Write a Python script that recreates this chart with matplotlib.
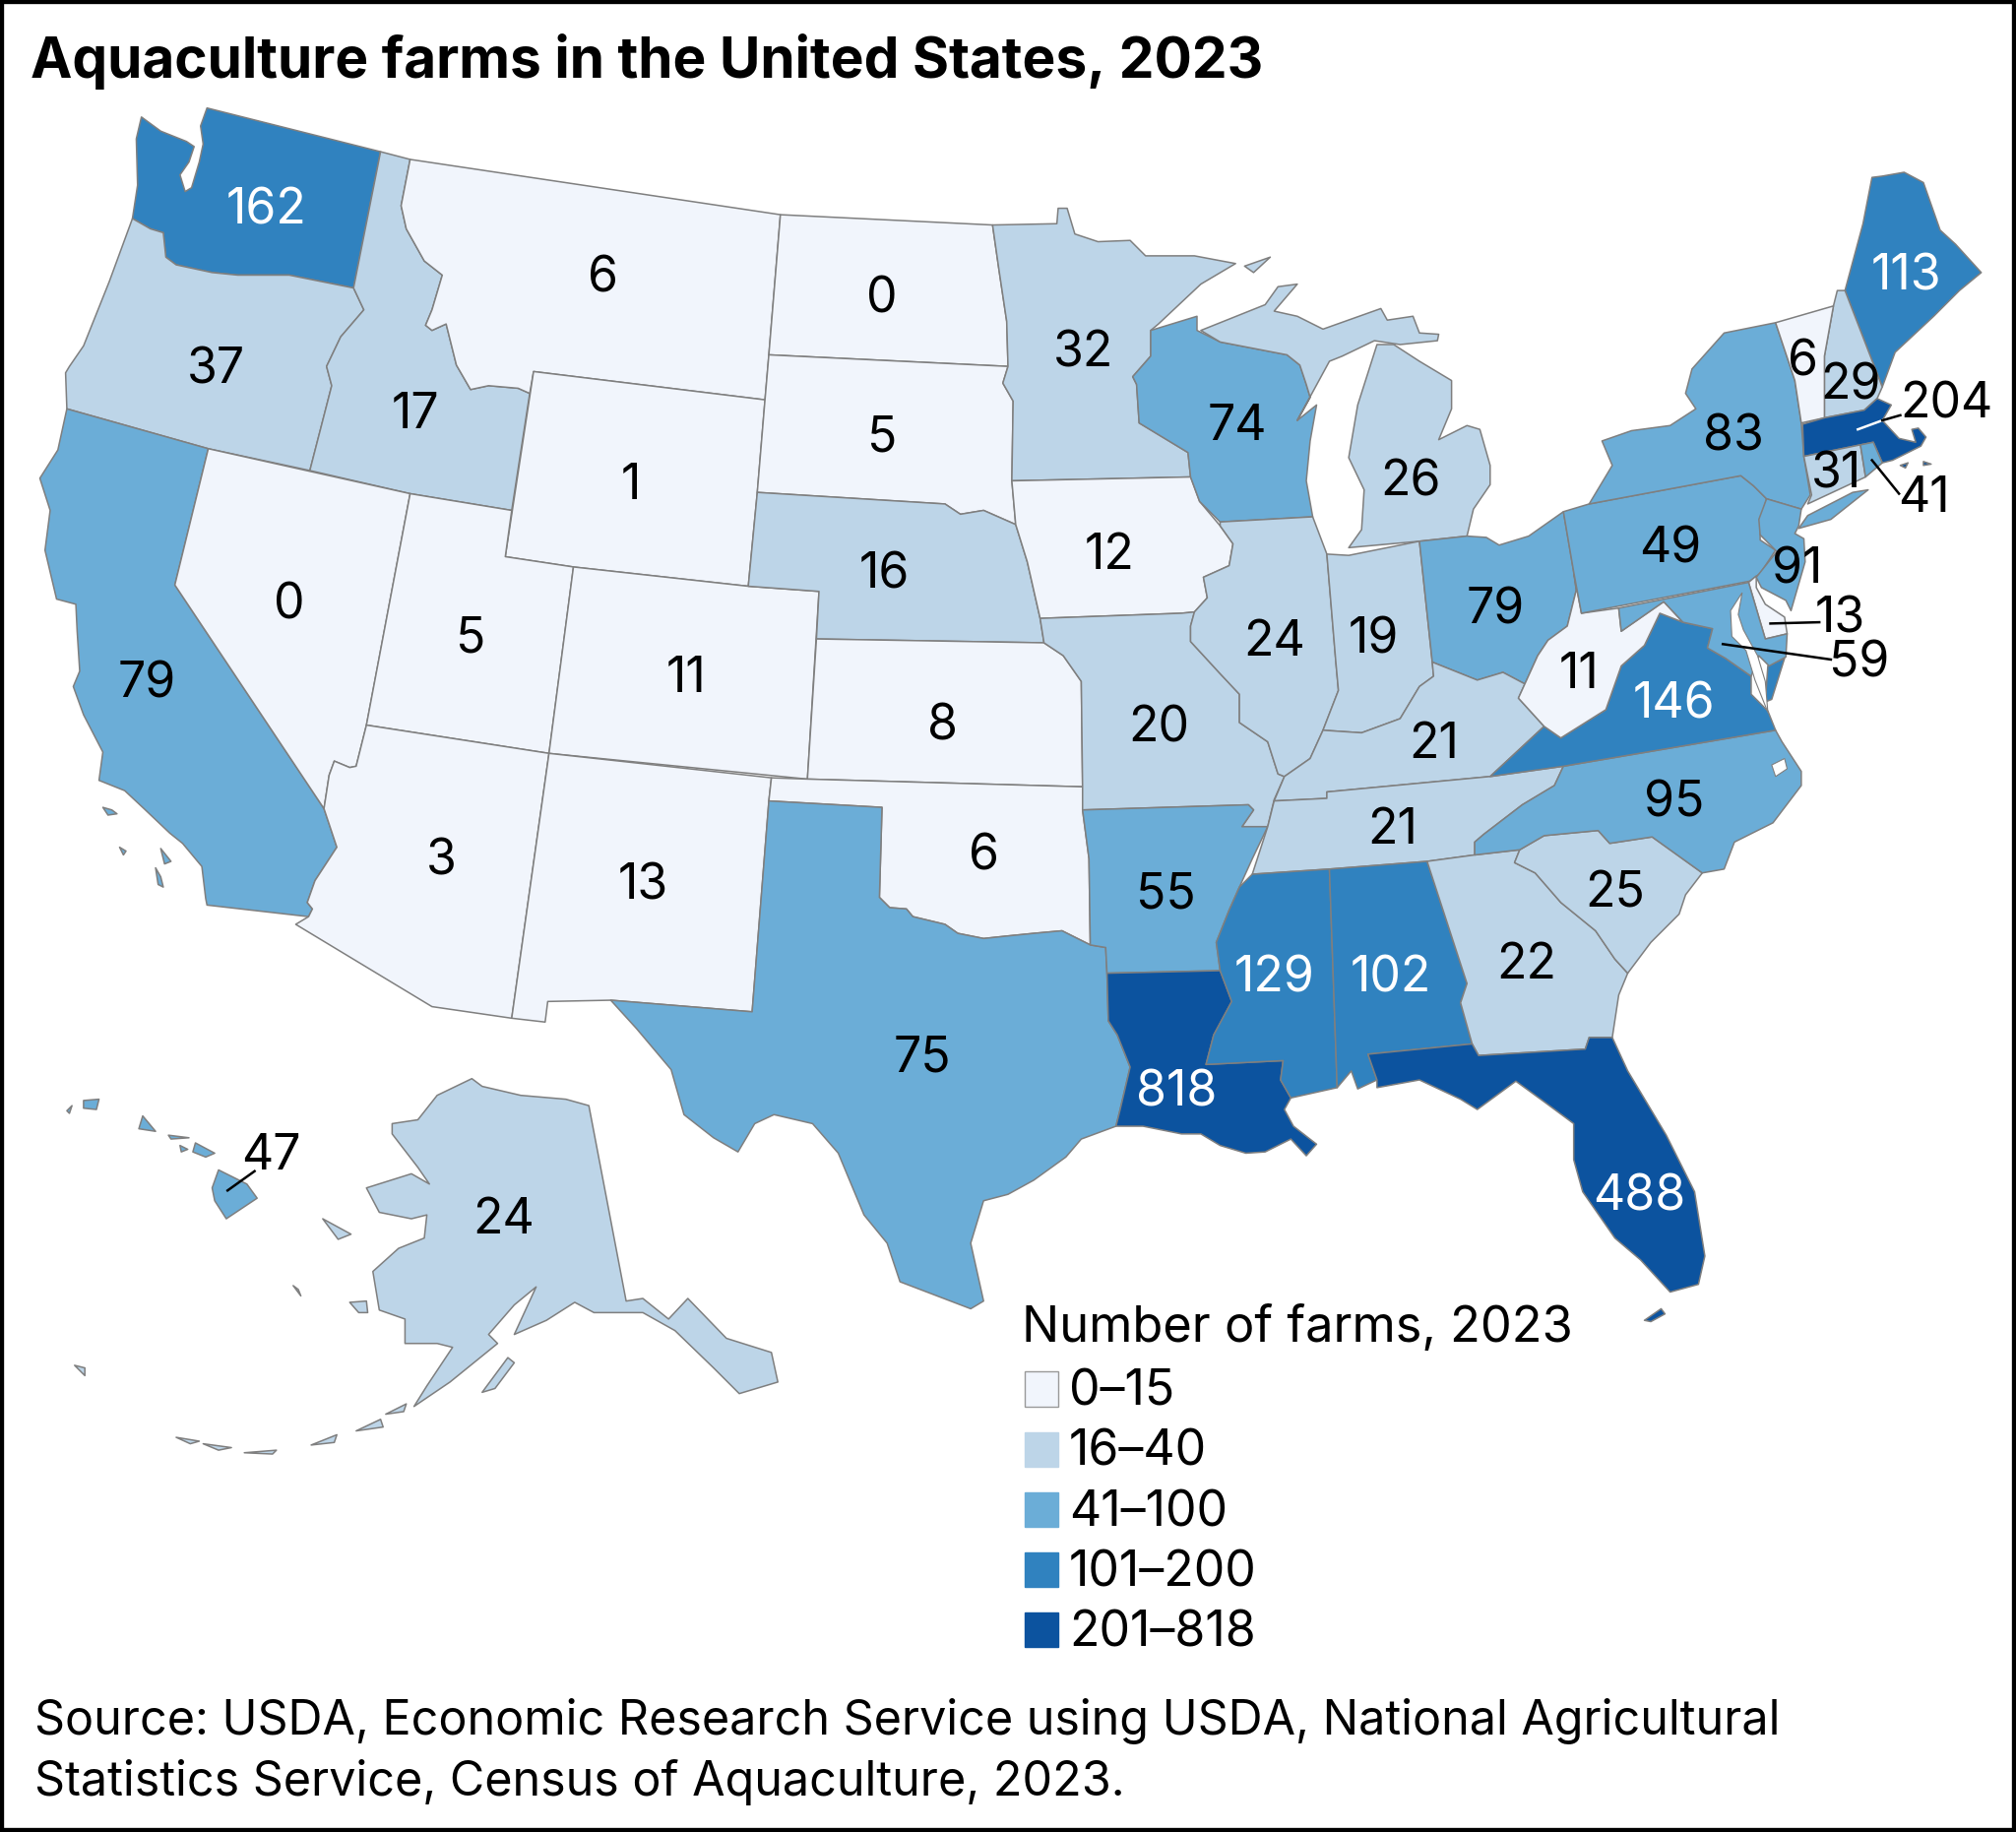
import numpy as np
import matplotlib
matplotlib.use("Agg")
import matplotlib.pyplot as plt
from matplotlib.patches import Polygon, Rectangle

plt.rcParams['font.family'] = ['Inter', 'DejaVu Sans']

states = ["WA", "OR", "CA", "ID", "NV", "MT", "WY", "UT", "AZ", "CO", "NM", "ND", "SD", "NE", "KS", "OK", "TX",
          "MN", "IA", "MO", "AR", "LA", "WI", "IL", "MI", "IN", "OH", "KY", "TN", "MS", "AL", "GA", "FL", "SC",
          "NC", "VA", "WV", "PA", "NY", "ME", "NH", "VT", "MA", "CT", "RI", "NJ", "DE", "MD", "AK", "HI"]
farms = [162, 37, 79, 17, 0, 6, 1, 5, 3, 11, 13, 0, 5, 16, 8, 6, 75,
         32, 12, 20, 55, 818, 74, 24, 26, 19, 79, 21, 21, 129, 102, 22, 488, 25,
         95, 146, 11, 49, 83, 113, 29, 6, 204, 31, 41, 91, 13, 59, 24, 47]

bin_edges = [16, 41, 101, 201]
bin_labels = ["0–15", "16–40", "41–100", "101–200", "201–818"]
bin_colors = ["#f1f5fc", "#bdd5e8", "#6badd7", "#3082bf", "#0c539f"]

title = "Aquaculture farms in the United States, 2023"
legend_title = "Number of farms, 2023"
source = ["Source: USDA, Economic Research Service using USDA, National Agricultural",
          "Statistics Service, Census of Aquaculture, 2023."]

# outlines, in its own pixel grid (1568 wide)
outlines = {
    "WA": [[(161,84),(296,118),(275,224),(225,214),(185,214),(165,212),(137,206),(129,200),(127,181),(117,178),(103,170),
            (107,144),(106,108),(110,91),(125,102),(145,110),(151,114),(147,126),(140,136),(144,149),(149,146),(155,126),(158,112),(156,98)]],
    "OR": [[(103,170),(117,178),(127,181),(129,200),(137,206),(165,212),(185,214),(225,214),(275,224),(283,241),(265,262),(254,285),(258,300),
            (241,366),(162,349),(52,318),(51,290),(54,285),(65,269),(85,219)]],
    "CA": [[(52,318),(162,349),(136,455),(252,629),(262,659),(245,685),(239,702),(243,707),(240,713),(161,704),(160,699),(157,674),(142,656),
            (132,648),(112,629),(97,615),(77,607),(80,585),(65,556),(57,534),(62,522),(60,491),(59,470),(44,466),(35,428),(39,397),(31,372),(45,350)],
           [(80,628),(87,630),(91,633),(84,634)], [(93,659),(98,662),(96,665)], [(125,660),(133,670),(128,672)], [(121,675),(125,682),(127,690),(123,688)]],
    "ID": [[(296,118),(319,124),(312,160),(316,178),(330,203),(344,214),(336,241),(331,253),(336,257),(347,252),(355,284),(366,303),(380,300),
            (403,302),(412,306),(398,397),(319,384),(241,366),(258,300),(254,285),(265,262),(283,241),(275,224)]],
    "NV": [[(162,349),(319,384),(285,564),(277,596),(272,597),(260,592),(256,603),(252,629),(136,455)]],
    "MT": [[(319,124),(607,167),(598,276),(595,311),(415,289),(412,306),(403,302),(380,300),(366,303),(355,284),(347,252),(336,257),(331,253),
            (336,241),(344,214),(330,203),(316,178),(312,160)]],
    "WY": [[(415,289),(595,311),(589,383),(582,456),(446,441),(393,433)]],
    "UT": [[(319,384),(398,397),(393,433),(446,441),(427,586),(285,564)]],
    "AZ": [[(285,564),(427,586),(398,792),(336,783),(230,719),(240,713),(243,707),(239,702),(245,685),(262,659),(252,629),(256,603),(260,592),(272,597),(277,596)]],
    "CO": [[(446,441),(582,456),(637,460),(628,606),(427,586)]],
    "NM": [[(427,586),(600,605),(598,623),(585,787),(475,778),(426,779),(424,795),(398,792)]],
    "ND": [[(607,167),(772,175),(777,210),(783,250),(784,285),(598,276)]],
    "SD": [[(598,276),(784,285),(780,298),(788,312),(787,374),(790,408),(765,397),(747,400),(735,392),(589,383),(595,311)]],
    "NE": [[(589,383),(735,392),(747,400),(765,397),(790,408),(799,437),(809,481),(812,500),(635,497),(637,460),(582,456)]],
    "KS": [[(635,497),(812,500),(827,510),(841,530),(842,612),(628,606)]],
    "OK": [[(600,605),(628,606),(842,612),(842,630),(847,668),(848,735),(826,724),(804,726),(784,728),(765,730),(745,726),(735,719),(710,713),
            (705,707),(692,706),(684,698),(686,628),(598,623)]],
    "TX": [[(598,623),(686,628),(684,698),(692,706),(705,707),(710,713),(735,719),(745,726),(765,730),(784,728),(804,726),(826,724),(848,735),(860,737),
            (861,757),(862,794),(869,805),(879,830),(871,864),(868,876),(841,886),(829,900),(804,918),(784,929),(765,934),(755,967),(765,1012),(755,1018),
            (700,997),(690,967),(672,945),(652,897),(632,874),(602,867),(587,874),(574,896),(555,885),(532,867),(522,832),(495,800),(475,778),(585,787)]],
    "MN": [[(772,175),(822,174),(823,162),(830,162),(836,182),(854,188),(879,187),(891,199),(929,199),(961,205),(934,221),(901,252),(895,257),(895,277),
            (881,293),(884,299),(886,329),(924,352),(926,371),(787,374),(788,312),(780,298),(784,285),(783,250),(777,210)]],
    "IA": [[(787,374),(926,371),(933,390),(949,409),(959,423),(956,440),(936,449),(939,465),(929,476),(919,477),(809,481),(799,437),(790,408)]],
    "MO": [[(809,481),(919,477),(929,476),(926,487),(926,499),(949,524),(964,540),(964,562),(986,577),(994,602),(999,604),(991,622),(986,643),(966,643),(975,630),(971,626),
            (842,630),(842,612),(841,530),(827,510),(812,500)]],
    "AR": [[(842,630),(971,626),(975,630),(966,643),(986,643),(974,668),(964,690),(956,708),(946,733),(949,755),(861,757),(860,737),(848,735),(847,668)]],
    "LA": [[(861,757),(949,755),(958,779),(944,805),(938,828),(998,825),(996,840),(1004,854),(999,863),(1006,876),(1024,890),(1016,899),(1004,886),(984,896),
            (969,897),(949,891),(934,882),(919,882),(889,876),(868,876),(871,864),(879,830),(869,805),(862,794)]],
    "WI": [[(895,257),(931,246),(931,257),(949,266),(1001,276),(1011,284),(1016,299),(1019,309),(1009,327),(1024,315),(1019,343),(1016,374),(1021,402),(949,406),
            (933,390),(926,371),(924,352),(886,329),(884,299),(881,293),(895,277)]],
    "IL": [[(949,406),(1021,402),(1032,431),(1039,515),(1041,537),(1029,568),(1019,590),(999,604),(994,602),(986,577),(964,562),(964,540),(949,524),(926,499),(926,487),
            (929,476),(939,465),(936,449),(956,440),(959,423),(949,409)]],
    "MI": [[(1049,426),(1104,421),(1141,417),(1146,396),(1159,377),(1159,362),(1151,334),(1141,331),(1119,342),(1129,318),(1129,296),(1104,281),(1084,268),(1071,268),
            (1056,315),(1049,356),(1061,381),(1059,412)],
           [(934,257),(954,249),(984,237),(994,223),(1009,221),(991,242),(1009,246),(1029,256),(1074,240),(1079,249),(1099,246),(1104,259),(1119,260),(1118,265),(1089,268),
            (1069,265),(1044,277),(1034,281),(1009,327),(1019,309),(1016,299),(1011,284),(1001,276),(949,266)],
           [(968,207),(988,200),(975,212)]],
    "IN": [[(1032,431),(1049,432),(1104,421),(1114,515),(1115,526),(1104,534),(1089,559),(1059,570),(1029,568),(1041,537),(1039,515)]],
    "OH": [[(1104,421),(1141,417),(1156,418),(1166,424),(1189,417),(1216,398),(1224,445),(1226,459),(1219,487),(1204,498),(1196,510),(1186,532),(1169,523),(1149,529),(1114,515)]],
    "KY": [[(1114,515),(1149,529),(1169,523),(1186,532),(1181,543),(1201,565),(1159,604),(1032,616),(1032,621),(991,623),(999,604),(1019,590),(1029,568),(1059,570),(1089,559),(1104,534),(1115,526)]],
    "TN": [[(974,680),(986,643),(991,623),(1032,621),(1032,616),(1159,604),(1216,596),(1209,611),(1184,626),(1154,649),(1147,655),(1147,665),(1110,670),(1034,676)]],
    "MS": [[(974,680),(1034,676),(1040,846),(1004,854),(996,840),(998,825),(938,828),(944,805),(958,779),(949,755),(946,733),(956,708),(964,690)]],
    "AL": [[(1034,676),(1110,670),(1141,765),(1136,780),(1145,812),(1064,820),(1071,840),(1056,847),(1051,833),(1040,846)]],
    "GA": [[(1110,670),(1147,665),(1182,661),(1178,671),(1194,679),(1214,702),(1241,724),(1256,746),(1266,757),(1259,774),(1254,807),(1236,807),(1233,816),(1150,821),(1145,812),(1136,780),(1141,765)]],
    "FL": [[(1064,820),(1145,812),(1150,821),(1233,816),(1236,807),(1254,807),(1266,833),(1296,883),(1318,927),(1326,977),(1321,999),(1299,1005),(1276,980),(1256,963),(1231,927),(1224,902),
            (1224,874),(1201,857),(1179,841),(1149,863),(1136,855),(1104,840),(1071,846),(1071,840)],
           [(1279,1027),(1292,1018),(1295,1022),(1284,1028)]],
    "SC": [[(1178,671),(1182,661),(1201,650),(1243,646),(1252,656),(1285,651),(1324,679),(1311,696),(1306,711),(1284,733),(1266,757),(1256,746),(1241,724),(1214,702),(1194,679)]],
    "NC": [[(1216,596),(1381,568),(1386,577),(1401,600),(1401,611),(1379,640),(1349,655),(1341,676),(1324,679),(1285,651),(1252,656),(1243,646),(1201,650),(1182,661),(1147,665),(1147,655),
            (1154,649),(1184,626),(1209,611)]],
    "VA": [[(1159,604),(1216,596),(1381,568),(1375,553),(1362,540),(1362,526),(1342,512),(1328,504),(1332,489),(1309,484),(1291,477),(1279,502),(1261,518),(1249,552),(1214,574),(1201,565)],
           [(1388,512),(1375,518),(1373,546),(1378,544)]],
    "WV": [[(1224,445),(1230,477),(1259,473),(1261,491),(1294,468),(1309,484),(1291,477),(1279,502),(1261,518),(1249,552),(1214,574),(1201,565),(1181,543),(1186,532),(1196,510),(1204,498),(1219,487),(1226,459)]],
    "PA": [[(1216,398),(1236,392),(1354,370),(1364,378),(1374,388),(1369,405),(1369,420),(1381,428),(1369,446),(1361,452),(1230,477),(1224,445)]],
    "NY": [[(1236,392),(1254,362),(1246,343),(1269,335),(1299,331),(1319,318),(1311,306),(1316,287),(1341,259),(1381,251),(1396,296),(1401,329),(1403,355),(1408,385),(1401,396),(1374,388),(1364,378),(1354,370)],
           [(1399,411),(1424,404),(1453,381),(1441,383),(1406,401)]],
    "ME": [[(1435,226),(1449,174),(1456,138),(1464,137),(1481,134),(1496,142),(1509,179),(1521,190),(1541,212),(1524,226),(1504,246),(1474,274),(1464,301)]],
    "NH": [[(1426,238),(1429,226),(1435,226),(1464,301),(1460,310),(1450,319),(1419,325),(1419,277)]],
    "VT": [[(1381,251),(1426,238),(1419,277),(1419,325),(1401,329),(1396,296)]],
    "MA": [[(1402,330),(1419,325),(1450,319),(1460,310),(1471,315),(1464,327),(1477,341),(1490,344),(1487,334),(1492,333),(1498,340),(1494,347),(1472,358),(1464,360),(1457,344),(1447,346),(1403,355)],
           [(1478,362),(1484,360),(1482,364)], [(1496,359),(1502,361),(1496,362)]],
    "CT": [[(1403,355),(1447,346),(1451,371),(1406,392),(1409,385)]],
    "RI": [[(1447,346),(1457,344),(1464,360),(1451,371)]],
    "NJ": [[(1374,388),(1401,396),(1399,409),(1396,415),(1403,419),(1404,437),(1393,475),(1389,467),(1370,457),(1366,449),(1382,429),(1369,416),(1368,404)]],
    "DE": [[(1360,453),(1366,448),(1366,457),(1373,470),(1388,480),(1390,493),(1373,497)]],
    "MD": [[(1259,473),(1261,491),(1294,468),(1309,484),(1332,489),(1328,504),(1342,512),(1362,526),(1368,510),(1376,518),(1389,511),(1390,493),(1373,497),(1360,453)]],
    "AK": [[(458,860),(487,1012),(500,1010),(520,1026),(535,1010),(565,1041),(600,1052),(605,1075),(575,1084),(555,1064),(525,1035),(500,1021),(462,1021),(447,1013),(425,1027),(400,1038),
            (417,1001),(400,1015),(380,1038),(387,1045),(350,1075),(322,1094),(332,1078),(352,1048),(340,1045),(315,1045),(315,1026),(295,1019),(290,989),(310,971),(330,963),(332,945),(320,948),
            (295,943),(285,924),(320,913),(334,921),(325,908),(305,882),(305,874),(325,871),(340,852),(367,839),(375,845),(405,852),(440,855)],
           [(375,1083),(395,1056),(400,1060),(385,1080)], [(251,948),(273,960),(263,964)], [(272,1013),(285,1012),(286,1021),(279,1021)],
           [(300,1100),(316,1092),(314,1098)], [(277,1113),(296,1104),(298,1110)], [(242,1124),(262,1116),(260,1122)],
           [(137,1118),(155,1121),(148,1123)], [(158,1123),(180,1126),(170,1128)], [(190,1130),(215,1128),(212,1131)], [(58,1062),(66,1064),(66,1070)],
           [(228,1000),(232,1003),(234,1008)]],
    "HI": [[(170,910),(192,921),(200,932),(176,948),(167,934),(165,924)], [(152,889),(167,897),(160,900),(150,896)],
           [(131,883),(147,885),(133,886)], [(140,891),(146,894),(141,896)], [(111,868),(121,880),(108,878)],
           [(65,856),(77,855),(75,863),(65,862)], [(52,864),(56,860),(54,866)]],
}

# water cut back out of the map
water = [
    [(1355,461),(1346,475),(1347,495),(1358,506),(1365,529),(1375,554),(1373,530),(1367,510),(1356,490),(1352,478)],
    [(1378,595),(1388,590),(1390,598),(1381,604)],
]

# value label positions, same grid
label_xy = {"WA": (207,161), "OR": (168,285), "CA": (114,529), "ID": (323,320), "NV": (225,468), "MT": (469,214),
            "WY": (491,375), "UT": (366,494), "AZ": (343,667), "CO": (534,525), "NM": (500,686), "ND": (686,230),
            "SD": (686,338), "NE": (688,444), "KS": (733,562), "OK": (765,663), "TX": (717,820), "MN": (843,272),
            "IA": (863,429), "MO": (901,564), "AR": (907,693), "LA": (915,847), "WI": (962,329), "IL": (991,497),
            "MI": (1097,372), "IN": (1068,495), "OH": (1163,472), "KY": (1115,576), "TN": (1083,643), "MS": (991,758),
            "AL": (1082,758), "GA": (1187,748), "FL": (1275,928), "SC": (1256,692), "NC": (1302,622), "VA": (1302,545),
            "WV": (1228,522), "PA": (1299,424), "NY": (1348,337), "ME": (1483,212), "NH": (1439,297), "VT": (1402,279),
            "MA": (1514,312), "CT": (1428,366), "RI": (1496,385), "NJ": (1398,440), "DE": (1431,479), "MD": (1446,513),
            "AK": (392,946), "HI": (211,896)}
white_labels = ["WA", "ME", "VA", "MS", "AL", "LA", "FL"]

# leader lines: state, start, end, colour
leaders = [("HI", (177,926), (198,911), "black"), ("MA", (1445,334), (1464,327), "white"), ("MA", (1464,327), (1478,323), "black"),
           ("RI", (1456,358), (1477,384), "black"), ("DE", (1377,485), (1415,484), "black"), ("MD", (1340,501), (1424,513), "black")]

fig = plt.figure(figsize=(20.48, 18.61), dpi=100)
ax = fig.add_axes([0, 0, 1, 1])
ax.set_xlim(0, 1568)
ax.set_ylim(1425, 0)
ax.axis("off")

edge = "#7f7f7f"
classes = np.digitize(farms, bin_edges)
for st, k in zip(states, classes):
    for poly in outlines[st]:
        ax.add_patch(Polygon(poly, closed=True, facecolor=bin_colors[k], edgecolor=edge, linewidth=1.1, joinstyle="round"))
for poly in water:
    ax.add_patch(Polygon(poly, closed=True, facecolor="white", edgecolor=edge, linewidth=0.8))

for st, n in zip(states, farms):
    x, y = label_xy[st]
    ax.text(x, y + 3, str(n), ha="center", va="center", fontsize=36, color="white" if st in white_labels else "black", zorder=5)

for st, p0, p1, c in leaders:
    ax.plot([p0[0], p1[0]], [p0[1], p1[1]], color=c, lw=1.8, zorder=4)

ax.text(24, 48, title, ha="left", va="center", fontsize=40.9, fontweight="bold")
ax.text(795, 1033, legend_title, ha="left", va="center", fontsize=36.4)
for i, (lab, c) in enumerate(zip(bin_labels, bin_colors)):
    yc = 1080 + i * 46.8
    ax.add_patch(Rectangle((797, yc - 13), 26, 27, facecolor=c, edgecolor="#999999" if i == 0 else c, linewidth=1))
    ax.text(831.5, yc + 3, lab, ha="left", va="center", fontsize=36)

ax.text(26.5, 1339, source[0], ha="left", va="center", fontsize=34.9)
ax.text(26.5, 1386, source[1], ha="left", va="center", fontsize=34.9)

ax.add_patch(Rectangle((0, 0), 1568, 1425, fill=False, edgecolor="black", linewidth=6, zorder=10))

fig.savefig("out.png", dpi=100)
